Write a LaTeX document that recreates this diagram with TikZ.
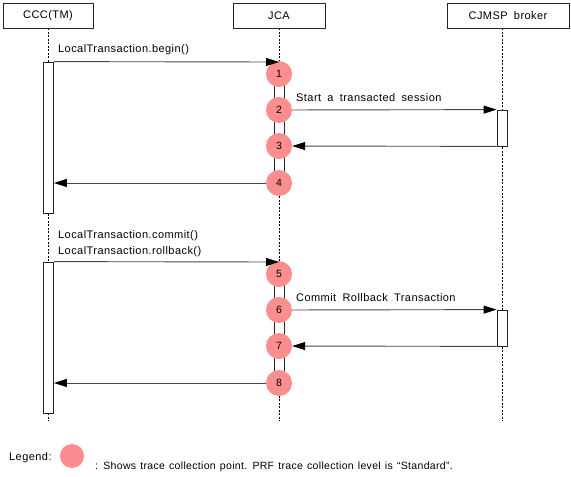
\documentclass[tikz,border=0pt]{standalone}
\usepackage{fontspec}
\setmainfont{Liberation Sans}[LetterSpace=4,WordSpace=1.8]
\newfontfamily\legendfont{Liberation Sans}[LetterSpace=3,WordSpace=1.3]
\usetikzlibrary{arrows.meta}
\definecolor{trace}{RGB}{250,142,142}
\definecolor{arr}{RGB}{70,70,70}
\begin{document}
\begin{tikzpicture}[x=1pt,y=-1pt,
  font=\fontsize{11}{13}\selectfont,
  actor/.style={draw=black!85,line width=0.8pt,fill=white,minimum height=25pt,inner sep=0pt},
  lifeline/.style={draw=black,line width=0.8pt,dash pattern=on 2pt off 1.5pt},
  act/.style={draw=black!85,line width=0.8pt,fill=white,minimum width=10pt,inner sep=0pt},
  pt/.style={circle,fill=trace,minimum size=26pt,inner sep=0pt,font=\fontsize{10.5}{12}\selectfont},
  msg/.style={draw=arr,line width=0.9pt,-{Triangle[length=13pt,width=8pt,color=black,fill=black]}},
  lbl/.style={anchor=base west,inner sep=0pt}]
\useasboundingbox (0,0) rectangle (571,477);
% actors
\node[actor,minimum width=90pt] (ccc) at (48,15.5) {CCC(TM)};
\node[actor,minimum width=92pt] (jca) at (279,15.5) {JCA};
\node[actor,minimum width=122pt] (cjm) at (508,15.5) {CJMSP broker};
\coordinate (cccend) at (48,421);
\coordinate (jcaend) at (279,421);
\coordinate (cjmend) at (502,421);
\coordinate (cjmtop) at (502,28);
\draw[lifeline] (ccc.south) -- (cccend);
\draw[lifeline] (jca.south) -- (jcaend);
\draw[lifeline] (cjmtop) -- (cjmend);
% activations
\node[act,minimum height=151pt] (a1) at (48.5,137.5) {};
\node[act,minimum height=151pt] (a2) at (48.5,337.5) {};
\node[act,minimum height=109pt] (j1) at (279,128.5) {};
\node[act,minimum height=109pt] (j2) at (279,328.5) {};
\node[act,minimum height=36pt] (b1) at (502,128) {};
\node[act,minimum height=36pt] (b2) at (502,328) {};
% trace points
\node[pt] (c1) at (279,74) {1};
\node[pt] (c2) at (279,110) {2};
\node[pt] (c3) at (279,146) {3};
\node[pt] (c4) at (279,183) {4};
\node[pt] (c5) at (279,274) {5};
\node[pt] (c6) at (279,310) {6};
\node[pt] (c7) at (279,346) {7};
\node[pt] (c8) at (279,383) {8};
% message ends
\coordinate (t1) at (279,62);
\coordinate (t5) at (279,262);
% messages
\draw[msg] (a1.north east) -- (t1);
\draw[msg] (c2) -- (b1.north west);
\draw[msg] (b1.south west) -- (c3);
\draw[msg] (c4) -- (a1.east |- c4);
\draw[msg] (a2.north east) -- (t5);
\draw[msg] (c6) -- (b2.north west);
\draw[msg] (b2.south west) -- (c7);
\draw[msg] (c8) -- (a2.east |- c8);
% labels
\node[lbl] (l1) at (58,52) {LocalTransaction.begin()};
\node[lbl] (l2) at (296,101) {Start a transacted session};
\node[lbl] (l3) at (58,238) {LocalTransaction.commit()};
\node[lbl] (l4) at (58,254) {LocalTransaction.rollback()};
\node[lbl] (l6) at (296,301) {Commit Rollback Transaction};
% legend
\node[lbl] (lg) at (9,460) {Legend:};
\node[circle,fill=trace,minimum size=24pt,inner sep=0pt] (lgc) at (72,456) {};
\node[lbl,font=\legendfont\fontsize{10.5}{13}\selectfont] (lgt) at (95,469) {: Shows trace collection point. PRF trace collection level is “Standard”.};
\end{tikzpicture}
\end{document}
